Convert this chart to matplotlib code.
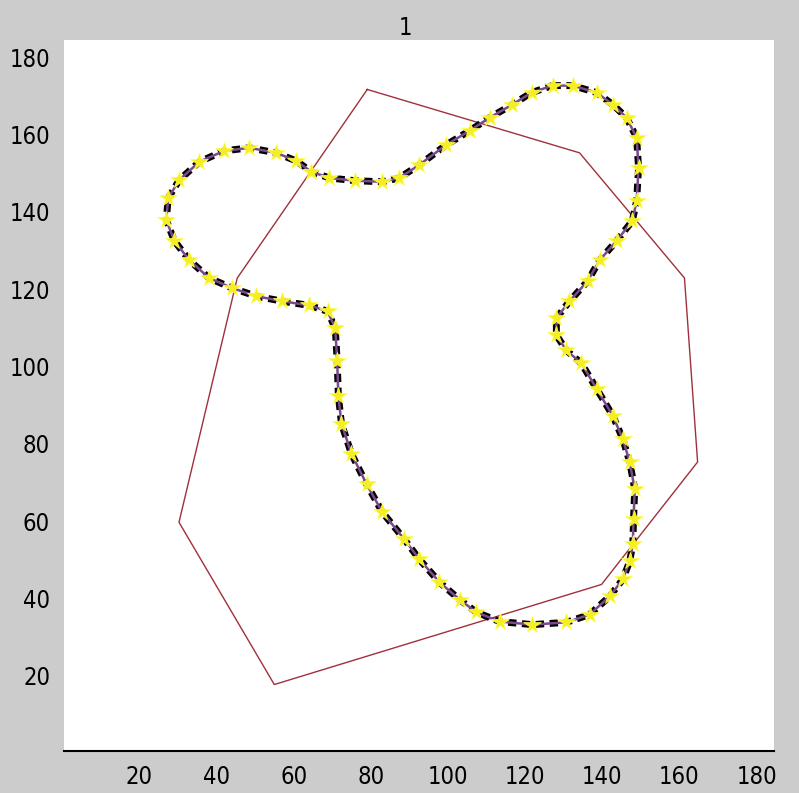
import numpy as np
import matplotlib.pyplot as plt

# contorno inicial (polígono rojo)
init_x = [79.1, 134.1, 161.3, 164.7, 139.8, 55.0, 30.3, 45.4]
init_y = [171.7, 155.3, 122.9, 75.3, 43.6, 17.7, 59.7, 122.9]

# contorno final (estrellas amarillas)
snake_x = [127.1, 132.3, 138.5, 142.7, 146.3, 148.9, 149.4, 148.9, 147.8, 143.7,
           139.3, 136.2, 131.5, 128.1, 128.1, 130.7, 134.6, 138.5, 142.7, 145.3,
           147.1, 148.4, 148.1, 147.9, 147.1, 145.3, 141.9, 136.7, 130.7, 121.9,
           113.4, 107.4, 103.0, 97.8, 92.6, 88.7, 83.0, 78.9, 75.0, 72.4,
           71.6, 71.3, 70.8, 68.8, 64.1, 57.1, 50.3, 44.1, 38.1, 33.0,
           29.1, 27.0, 27.5, 30.4, 35.6, 42.0, 48.5, 55.5, 60.7, 64.6,
           69.3, 75.8, 83.0, 87.4, 92.6, 99.6, 105.6, 110.8, 116.7, 121.7]
snake_y = [172.7, 172.7, 170.9, 167.8, 164.4, 159.2, 151.4, 142.9, 137.7, 132.5,
           127.5, 122.1, 116.9, 112.5, 108.1, 104.2, 100.8, 94.3, 87.3, 81.3,
           75.3, 68.3, 60.5, 54.0, 49.6, 44.9, 40.5, 35.8, 33.8, 33.2,
           34.0, 36.4, 39.7, 44.2, 50.1, 55.3, 62.3, 69.6, 77.4, 85.2,
           92.5, 101.3, 109.9, 114.3, 115.8, 116.9, 118.2, 120.3, 122.9, 127.5,
           132.5, 137.9, 143.6, 148.3, 153.0, 155.8, 156.6, 155.3, 153.2, 150.4,
           148.8, 148.1, 147.8, 148.8, 152.2, 157.4, 161.0, 164.4, 167.8, 170.9]

ticks = [20, 40, 60, 80, 100, 120, 140, 160, 180]

fig = plt.figure(figsize=(7.99, 7.93), dpi=100, facecolor='#cccccc')
ax = fig.add_axes([64 / 799, 42 / 793, 710 / 799, 711 / 793])
ax.set_facecolor('white')

px = init_x + init_x[:1]
py = init_y + init_y[:1]
ax.plot(px, py, color='#a0303a', lw=1.0)

sx = snake_x + snake_x[:1]
sy = snake_y + snake_y[:1]
ax.plot(sx, sy, color='black', lw=5, ls=(0, (1.2, 0.8)))
ax.plot(sx, sy, color='#7a4a8a', lw=1.8)
ax.plot(snake_x, snake_y, ls='none', marker='*', ms=13, color='#f5ee20',
        markeredgecolor='#ffff50', markeredgewidth=0.5)

ax.set_xlim(0.5, 184.5)
ax.set_ylim(0.5, 184.5)
ax.set_xticks(ticks)
ax.set_yticks(ticks)
for s in ['top', 'left', 'right']:
    ax.spines[s].set_visible(False)
ax.spines['bottom'].set_linewidth(1.5)
ax.tick_params(length=0, labelsize=17, pad=10)
for lab in ax.get_xticklabels() + ax.get_yticklabels():
    lab.set_fontstretch('condensed')

fig.text(405 / 799, 1 - 28 / 793, '1', ha='center', va='center', fontsize=17,
         fontstretch='condensed')

fig.savefig('out.png', dpi=100, facecolor=fig.get_facecolor())
